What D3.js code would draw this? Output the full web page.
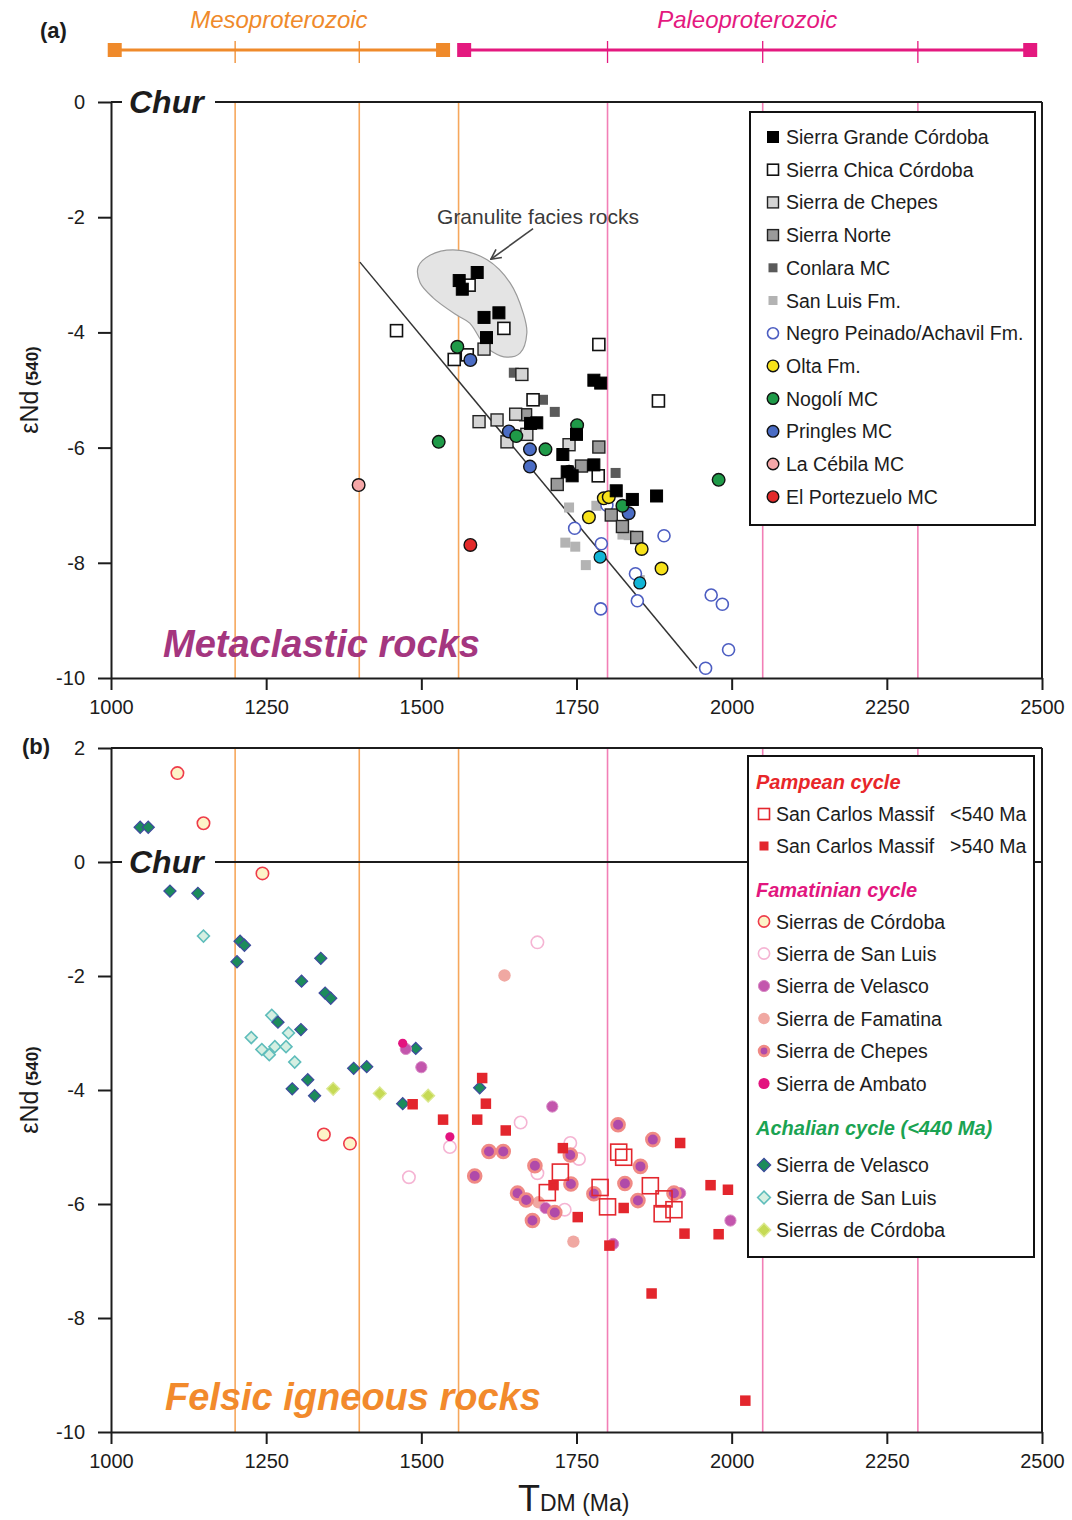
<!DOCTYPE html>
<html>
<head>
<meta charset="utf-8">
<script src="https://cdn.jsdelivr.net/npm/d3@7"></script>
<style>
  body { margin: 0; background: #fff; }
  svg { display: block; font-family: "Liberation Sans", Arial, sans-serif; }
</style>
</head>
<body>
<script>
// ---- data: [T_DM (Ma), eNd(540)] ----

// panel (a) metaclastic rocks
var sierraGrandeCordoba = [[1590,-2.96],[1561,-3.10],[1566,-3.25],[1601,-3.74],[1625,-3.66],[1605,-4.09],[1778,-4.83],[1789,-4.88],[1676,-5.58],[1686,-5.57],[1750,-5.77],[1728,-6.12],[1743,-6.49],[1735,-6.42],[1778,-6.30],[1814,-6.75],[1840,-6.90],[1879,-6.84]];
var sierraChicaCordoba = [[1460,-3.97],[1553,-4.47],[1574,-4.39],[1633,-3.93],[1577,-3.18],[1786,-4.21],[1882,-5.19],[1680,-5.17],[1785,-6.49]];
var sierraChepesA = [[1601,-4.29],[1662,-4.73],[1593,-5.55],[1622,-5.52],[1652,-5.42],[1670,-5.77],[1638,-5.90],[1738,-5.95]];
var sierraNorte = [[1668,-5.43],[1786,-5.99],[1758,-6.32],[1719,-6.64],[1806,-7.17],[1847,-7.56],[1824,-7.37]];
var conlara = [[1649,-4.70],[1696,-5.17],[1715,-5.38],[1813,-6.44]];
var sanLuisFm = [[1738,-7.04],[1782,-7.01],[1732,-7.65],[1748,-7.72],[1765,-8.04],[1824,-7.51],[1834,-7.52],[1852,-8.30]];
var negroPeinado = [[1747,-7.40],[1790,-7.67],[1891,-7.53],[1845,-8.19],[1848,-8.66],[1789,-8.80],[1967,-8.56],[1985,-8.72],[1958,-9.83],[1995,-9.51],[1799,-7.00]];
var olta = [[1794,-6.88],[1802,-6.86],[1770,-7.21],[1855,-7.76],[1887,-8.10]];
var nogoli = [[1558,-4.25],[1528,-5.90],[1751,-5.61],[1700,-6.03],[1653,-5.80],[1824,-7.01],[1979,-6.56]];
var pringles = [[1579,-4.48],[1641,-5.72],[1675,-6.03],[1675,-6.33],[1738,-6.42],[1834,-7.14]];
var cyanPoints = [[1788,-7.90],[1852,-8.35]];
var laCebila = [[1399,-6.65]];
var elPortezuelo = [[1579,-7.69]];

// granulite field outline and trend line in panel (a)
var granuliteField = [[1557,-2.57],[1606,-2.74],[1643,-3.14],[1664,-3.66],[1670,-4.01],[1659,-4.36],[1638,-4.43],[1615,-4.34],[1599,-4.18],[1578,-3.84],[1557,-3.70],[1519,-3.40],[1498,-3.14],[1495,-2.86],[1514,-2.66]];
var trendLine = [[1401,-2.78],[1944,-9.83]];
var granuliteArrow = [[1680,-2.20],[1612,-2.73]];

// panel (b) felsic igneous rocks
var scmYoung = [[1818,-5.09],[1826,-5.18],[1724,-5.44],[1703,-5.80],[1788,-5.71],[1800,-6.05],[1869,-5.68],[1891,-5.91],[1907,-6.10],[1888,-6.17]];
var scmOld = [[1598,-3.79],[1604,-4.24],[1486,-4.25],[1535,-4.52],[1590,-4.52],[1636,-4.71],[1728,-5.02],[1713,-5.67],[1752,-6.23],[1826,-6.07],[1803,-6.73],[1917,-4.93],[1966,-5.67],[1994,-5.75],[1924,-6.52],[1979,-6.53],[1871,-7.57],[2022,-9.45]];
var famCordoba = [[1107,1.56],[1149,0.68],[1244,-0.20],[1343,-4.78],[1385,-4.94]];
var famSanLuis = [[1687,-1.41],[1660,-4.57],[1546,-5.00],[1480,-5.53],[1740,-4.93],[1754,-5.21],[1687,-5.46],[1731,-6.10]];
var famVelasco = [[1711,-4.29],[1500,-3.60],[1998,-6.29],[1700,-6.07],[1917,-5.81],[1475,-3.28],[1809,-6.70]];
var famFamatina = [[1634,-1.99],[1745,-6.66],[1689,-5.97]];
var famChepes = [[1817,-4.61],[1873,-4.87],[1609,-5.08],[1632,-5.08],[1586,-5.51],[1683,-5.33],[1740,-5.14],[1655,-5.81],[1669,-5.93],[1741,-5.65],[1679,-6.29],[1715,-6.15],[1778,-5.82],[1828,-5.64],[1853,-5.34],[1849,-5.94],[1907,-5.81]];
var famAmbato = [[1546,-4.82],[1470,-3.18]];
var achVelasco = [[1047,0.61],[1060,0.61],[1095,-0.51],[1140,-0.55],[1208,-1.39],[1215,-1.46],[1203,-1.75],[1338,-1.69],[1307,-2.09],[1345,-2.30],[1354,-2.39],[1269,-2.81],[1306,-2.94],[1292,-3.98],[1317,-3.82],[1328,-4.10],[1391,-3.62],[1412,-3.59],[1594,-3.96],[1491,-3.27],[1470,-4.24]];
var achSanLuis = [[1149,-1.30],[1259,-2.69],[1226,-3.08],[1243,-3.29],[1255,-3.38],[1264,-3.24],[1282,-3.24],[1286,-3.00],[1296,-3.51]];
var achCordoba = [[1358,-3.98],[1433,-4.06],[1511,-4.10]];

// axes, guide lines, time bar
var xTicks = [1000, 1250, 1500, 1750, 2000, 2250, 2500];
var yTicksA = [0, -2, -4, -6, -8, -10];
var yTicksB = [2, 0, -2, -4, -6, -8, -10];
var mesoLines = [1200, 1400, 1560];
var paleoLines = [1800, 2050, 2300];
var eraNames = ["Mesoproterozoic", "Paleoproterozoic"];
var eraStart = [1006, 1569];
var eraEnd = [1535, 2481];
var eraTicks = [[1200, 1400], [1800, 2050, 2300]];
var eraColors = ["#ef8a2b", "#e4197f"];

// ---- setup ----
var svg = d3.select("body").append("svg")
    .attr("width", 1072)
    .attr("height", 1520);

var x = d3.scaleLinear().domain([1000, 2500]).range([111, 1042]);
var yA = d3.scaleLinear().domain([-10, 0]).range([678, 102]);
var yB = d3.scaleLinear().domain([-10, 2]).range([1432, 748]);

var ink = "#1c1c1c";

// draws one set of marks
function addMarks(g, pts, st, sx, sy) {
  var sel;
  if (st.shape === "circle") {
    sel = g.selectAll(null).data(pts).enter().append("circle")
      .attr("cx", function(d) { return sx(d[0]); })
      .attr("cy", function(d) { return sy(d[1]); })
      .attr("r", st.size);
  } else if (st.shape === "square") {
    sel = g.selectAll(null).data(pts).enter().append("rect")
      .attr("x", function(d) { return sx(d[0]) - st.size / 2; })
      .attr("y", function(d) { return sy(d[1]) - st.size / 2; })
      .attr("width", st.size)
      .attr("height", st.size);
  } else {
    sel = g.selectAll(null).data(pts).enter().append("path")
      .attr("d", d3.symbol(d3.symbolSquare, st.size * st.size))
      .attr("transform", function(d) { return "translate(" + sx(d[0]) + "," + sy(d[1]) + ") rotate(45)"; });
  }
  sel.attr("fill", st.fill)
    .attr("stroke", st.stroke || "none")
    .attr("stroke-width", st.sw || 0);
  return sel;
}

// legend marker at a pixel position
function legendMark(g, st, cx, cy) {
  var s = Object.assign({}, st, {size: st.lsize});
  var px = d3.scaleLinear().domain([0, 1]).range([cx, cx + 1]);
  var py = d3.scaleLinear().domain([0, 1]).range([cy, cy + 1]);
  addMarks(g, [[0, 0]], s, px, py);
}

// ---- series styles ----
var seriesA = [
  {name: "San Luis Fm.", data: sanLuisFm, shape: "square", size: 10, fill: "#b3b3b3", lsize: 9},
  {name: "Negro Peinado/Achavil Fm.", data: negroPeinado, shape: "circle", size: 6, fill: "#fff", stroke: "#4d5ec2", sw: 1.6, lsize: 5.5},
  {name: "Conlara MC", data: conlara, shape: "square", size: 10, fill: "#5a5a5a", lsize: 9},
  {name: "Sierra Norte", data: sierraNorte, shape: "square", size: 12, fill: "#9a9a9a", stroke: "#222", sw: 1.4, lsize: 11},
  {name: "Sierra de Chepes", data: sierraChepesA, shape: "square", size: 12, fill: "#d4d4d4", stroke: "#222", sw: 1.4, lsize: 11},
  {name: "Sierra Chica Córdoba", data: sierraChicaCordoba, shape: "square", size: 12, fill: "#fff", stroke: "#111", sw: 1.6, lsize: 11},
  {name: "Pringles MC", data: pringles, shape: "circle", size: 6.3, fill: "#4a6cc4", stroke: "#111", sw: 1.4, lsize: 5.8},
  {name: "Nogolí MC", data: nogoli, shape: "circle", size: 6.3, fill: "#1f9a48", stroke: "#111", sw: 1.4, lsize: 5.8},
  {name: "", data: cyanPoints, shape: "circle", size: 6, fill: "#12b5d6", stroke: "#111", sw: 1.2},
  {name: "Olta Fm.", data: olta, shape: "circle", size: 6.3, fill: "#f7e21a", stroke: "#111", sw: 1.4, lsize: 5.8},
  {name: "La Cébila MC", data: laCebila, shape: "circle", size: 6.3, fill: "#f5a7a8", stroke: "#111", sw: 1.4, lsize: 5.8},
  {name: "El Portezuelo MC", data: elPortezuelo, shape: "circle", size: 6.3, fill: "#e22a2a", stroke: "#111", sw: 1.4, lsize: 5.8},
  {name: "Sierra Grande Córdoba", data: sierraGrandeCordoba, shape: "square", size: 12, fill: "#000", stroke: "#000", sw: 1, lsize: 11}
];
var legendOrderA = ["Sierra Grande Córdoba", "Sierra Chica Córdoba", "Sierra de Chepes", "Sierra Norte", "Conlara MC", "San Luis Fm.",
  "Negro Peinado/Achavil Fm.", "Olta Fm.", "Nogolí MC", "Pringles MC", "La Cébila MC", "El Portezuelo MC"];

var stB = {
  scmYoung: {data: scmYoung, shape: "square", size: 16, fill: "none", stroke: "#e3262d", sw: 1.6, lsize: 11},
  scmOld: {data: scmOld, shape: "square", size: 10.5, fill: "#e3262d", lsize: 9},
  famCordoba: {data: famCordoba, shape: "circle", size: 6.2, fill: "#fdf4c8", stroke: "#ee3b4a", sw: 1.6, lsize: 5.6},
  famSanLuis: {data: famSanLuis, shape: "circle", size: 6.2, fill: "#fff", stroke: "#f5b4d3", sw: 1.6, lsize: 5.6},
  famVelasco: {data: famVelasco, shape: "circle", size: 5.6, fill: "#c356ad", stroke: "#d98cc6", sw: 1, lsize: 5.6},
  famFamatina: {data: famFamatina, shape: "circle", size: 6.2, fill: "#f0a8a2", lsize: 5.8},
  famChepes: {data: famChepes, shape: "circle", size: 6.4, fill: "#b04aa9", stroke: "#f08a85", sw: 2.8, lsize: 4.8},
  famAmbato: {data: famAmbato, shape: "circle", size: 4.6, fill: "#e3137f", lsize: 5.6},
  achVelasco: {data: achVelasco, shape: "diamond", size: 8.6, fill: "#1b8b5b", stroke: "#3e4a9e", sw: 1.2, lsize: 9.5},
  achSanLuis: {data: achSanLuis, shape: "diamond", size: 8.4, fill: "#d6efe2", stroke: "#5fbdbb", sw: 1.6, lsize: 9},
  achCordoba: {data: achCordoba, shape: "diamond", size: 9, fill: "#c6da55", stroke: "#dbe88f", sw: 1.4, lsize: 9.5}
};
var drawOrderB = ["achSanLuis", "achCordoba", "achVelasco", "famFamatina", "famSanLuis", "famVelasco", "famChepes", "famAmbato", "famCordoba", "scmOld", "scmYoung"];

// ---- time bar ----
var era = svg.append("g");
eraNames.forEach(function(name, i) {
  var c = eraColors[i];
  era.append("line").attr("x1", x(eraStart[i])).attr("x2", x(eraEnd[i]))
    .attr("y1", 50).attr("y2", 50).attr("stroke", c).attr("stroke-width", 3);
  eraTicks[i].forEach(function(t) {
    era.append("line").attr("x1", x(t)).attr("x2", x(t)).attr("y1", 41).attr("y2", 63)
      .attr("stroke", c).attr("stroke-width", 1.3);
  });
  [eraStart[i], eraEnd[i]].forEach(function(t) {
    era.append("rect").attr("x", x(t) - 7).attr("y", 43).attr("width", 14).attr("height", 14).attr("fill", c);
  });
  era.append("text").attr("x", (x(eraStart[i]) + x(eraEnd[i])) / 2).attr("y", 28)
    .attr("text-anchor", "middle").style("font-size", "24px").style("font-style", "italic")
    .attr("fill", c).text(name);
});

// ---- one panel frame ----
function panel(sy, yTicks, labelY) {
  var g = svg.append("g");
  var y0 = sy.range()[1], y1 = sy.range()[0];
  mesoLines.forEach(function(v) {
    g.append("line").attr("x1", x(v)).attr("x2", x(v)).attr("y1", y0).attr("y2", y1)
      .attr("stroke", "#f6a75c").attr("stroke-width", 1.6);
  });
  paleoLines.forEach(function(v) {
    g.append("line").attr("x1", x(v)).attr("x2", x(v)).attr("y1", y0).attr("y2", y1)
      .attr("stroke", "#f27fb6").attr("stroke-width", 1.6);
  });
  // top + right frame
  g.append("line").attr("x1", x(1000)).attr("x2", x(2500)).attr("y1", y0).attr("y2", y0)
    .attr("stroke", ink).attr("stroke-width", 2);
  g.append("line").attr("x1", x(2500)).attr("x2", x(2500)).attr("y1", y0).attr("y2", y1)
    .attr("stroke", ink).attr("stroke-width", 2);
  // Chur line
  g.append("line").attr("x1", x(1000)).attr("x2", x(2500)).attr("y1", sy(0)).attr("y2", sy(0))
    .attr("stroke", ink).attr("stroke-width", 2);
  g.append("rect").attr("x", 122).attr("y", sy(0) - 18).attr("width", 93).attr("height", 36).attr("fill", "#fff");
  g.append("text").attr("x", 129).attr("y", sy(0) + 11)
    .style("font-size", "32px").style("font-weight", "bold").style("font-style", "italic")
    .attr("fill", ink).text("Chur");

  var ax = g.append("g").attr("transform", "translate(0," + y1 + ")")
    .call(d3.axisBottom(x).tickValues(xTicks).tickSize(12).tickPadding(10).tickSizeOuter(0)
      .tickFormat(function(d) { return String(d); }));
  var ay = g.append("g").attr("transform", "translate(" + x(1000) + ",0)")
    .call(d3.axisLeft(sy).tickValues(yTicks).tickSize(13).tickPadding(13).tickSizeOuter(0)
      .tickFormat(function(d) { return String(d); }));
  [ax, ay].forEach(function(a) {
    a.selectAll("path, line").attr("stroke", ink).attr("stroke-width", 2);
    a.selectAll("text").attr("fill", ink).style("font-size", "20px").style("font-family", "'Liberation Sans', Arial, sans-serif");
  });

  // y title
  var t = svg.append("text").attr("transform", "translate(38," + labelY + ") rotate(-90)")
    .attr("text-anchor", "middle").attr("fill", ink);
  t.append("tspan").style("font-size", "25px").text("εNd");
  t.append("tspan").style("font-size", "17px").style("font-weight", "bold").text(" (540)");
  return g;
}

// ---- panel (a) ----
var gA = panel(yA, yTicksA, 390);
var lineA = d3.line().x(function(d) { return x(d[0]); }).y(function(d) { return yA(d[1]); });

gA.append("path")
  .attr("d", lineA.curve(d3.curveCatmullRomClosed)(granuliteField))
  .attr("fill", "#e4e4e4").attr("stroke", "#9a9a9a").attr("stroke-width", 1.2);
lineA.curve(d3.curveLinear);

gA.append("path")
  .attr("d", lineA(trendLine))
  .attr("stroke", "#333").attr("stroke-width", 1.5).attr("fill", "none");

svg.append("defs").append("marker").attr("id", "arrowV")
  .attr("viewBox", "0 0 12 12").attr("refX", 11).attr("refY", 6)
  .attr("markerWidth", 12).attr("markerHeight", 12).attr("markerUnits", "userSpaceOnUse")
  .attr("orient", "auto")
  .append("path").attr("d", "M1,1 L11,6 L1,11").attr("fill", "none").attr("stroke", "#444").attr("stroke-width", 1.6);

gA.append("path")
  .attr("d", lineA(granuliteArrow))
  .attr("stroke", "#444").attr("stroke-width", 1.6).attr("marker-end", "url(#arrowV)");

gA.append("text").attr("x", x(1688)).attr("y", yA(-2.0) + 7).attr("text-anchor", "middle")
  .style("font-size", "21px").attr("fill", "#3a3a3a").text("Granulite facies rocks");

seriesA.forEach(function(s) { addMarks(gA.append("g"), s.data, s, x, yA); });

gA.append("text").attr("x", 163).attr("y", 657)
  .style("font-size", "38px").style("font-weight", "bold").style("font-style", "italic")
  .attr("fill", "#a4367f").text("Metaclastic rocks");

// legend (a)
var legA = svg.append("g");
legA.append("rect").attr("x", 750).attr("y", 112).attr("width", 285).attr("height", 413)
  .attr("fill", "#fff").attr("stroke", "#111").attr("stroke-width", 2);
legendOrderA.forEach(function(name, i) {
  var s = seriesA.filter(function(d) { return d.name === name; })[0];
  var cy = 137 + i * 32.7;
  legendMark(legA, s, 773, cy);
  legA.append("text").attr("x", 786).attr("y", cy + 7).style("font-size", "19.5px").attr("fill", ink).text(name);
});

svg.append("text").attr("x", 40).attr("y", 38).style("font-size", "22px").style("font-weight", "bold")
  .attr("fill", ink).text("(a)");

// ---- panel (b) ----
var gB = panel(yB, yTicksB, 1090);

drawOrderB.forEach(function(k) { addMarks(gB.append("g"), stB[k].data, stB[k], x, yB); });

gB.append("text").attr("x", 165).attr("y", 1410)
  .style("font-size", "38px").style("font-weight", "bold").style("font-style", "italic")
  .attr("fill", "#f28a2c").text("Felsic igneous rocks");

// legend (b)
var legB = svg.append("g");
legB.append("rect").attr("x", 748).attr("y", 756).attr("width", 286).attr("height", 501)
  .attr("fill", "#fff").attr("stroke", "#111").attr("stroke-width", 2);

var headersB = [["Pampean cycle", 782, "#e8262a"], ["Famatinian cycle", 890, "#e2167e"], ["Achalian cycle (<440 Ma)", 1128, "#1aa352"]];
headersB.forEach(function(h) {
  legB.append("text").attr("x", 756).attr("y", h[1] + 7).style("font-size", "20px")
    .style("font-weight", "bold").style("font-style", "italic").attr("fill", h[2]).text(h[0]);
});
var entriesB = [
  ["scmYoung", "San Carlos Massif", "<540 Ma", 814],
  ["scmOld", "San Carlos Massif", ">540 Ma", 846],
  ["famCordoba", "Sierras de Córdoba", "", 921.5],
  ["famSanLuis", "Sierra de San Luis", "", 953.5],
  ["famVelasco", "Sierra de Velasco", "", 986],
  ["famFamatina", "Sierra de Famatina", "", 1018.5],
  ["famChepes", "Sierra de Chepes", "", 1051],
  ["famAmbato", "Sierra de Ambato", "", 1083.5],
  ["achVelasco", "Sierra de Velasco", "", 1165],
  ["achSanLuis", "Sierra de San Luis", "", 1197.5],
  ["achCordoba", "Sierras de Córdoba", "", 1230]
];
entriesB.forEach(function(e) {
  legendMark(legB, stB[e[0]], 764, e[3]);
  legB.append("text").attr("x", 776).attr("y", e[3] + 7).style("font-size", "19.5px").attr("fill", ink).text(e[1]);
  if (e[2]) {
    legB.append("text").attr("x", 950).attr("y", e[3] + 7).style("font-size", "19.5px").attr("fill", ink).text(e[2]);
  }
});

svg.append("text").attr("x", 22).attr("y", 754).style("font-size", "22px").style("font-weight", "bold")
  .attr("fill", ink).text("(b)");

// x title
var xt = svg.append("text").attr("x", 518).attr("y", 1511).attr("fill", ink);
xt.append("tspan").style("font-size", "36px").text("T");
xt.append("tspan").style("font-size", "23px").text("DM (Ma)");
</script>
</body>
</html>
